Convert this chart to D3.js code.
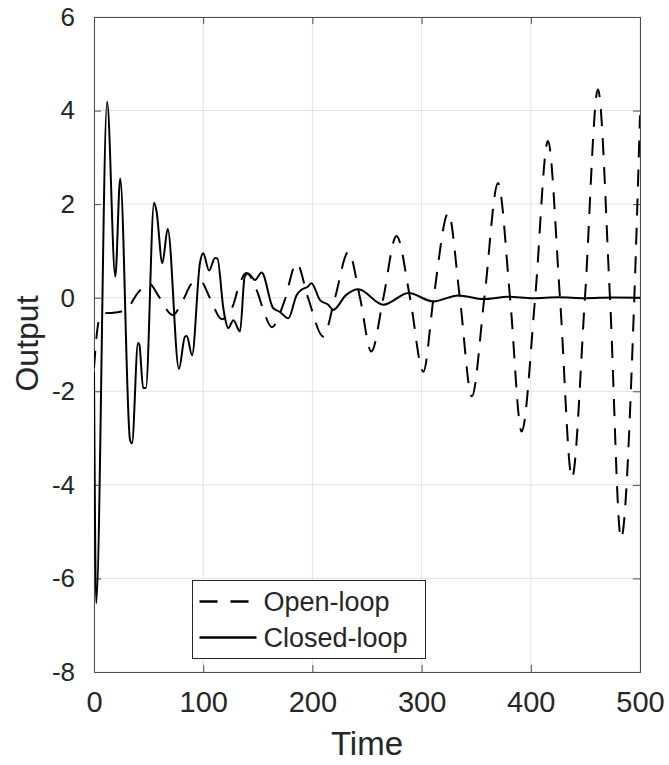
<!DOCTYPE html>
<html>
<head>
<meta charset="utf-8">
<script src="https://cdn.jsdelivr.net/npm/d3@7"></script>
<style>
  body { margin: 0; background: #fff; }
  text { font-family: "Liberation Sans", Arial, Helvetica, sans-serif; fill: #262626; }
</style>
</head>
<body>
<div id="chart"></div>
<script>
const MARGIN = { LEFT: 94, RIGHT: 29, TOP: 17, BOTTOM: 93 };
const WIDTH = 669 - MARGIN.LEFT - MARGIN.RIGHT;
const HEIGHT = 765 - MARGIN.TOP - MARGIN.BOTTOM;

// values: [time, output]
const openLoop = [
  [0, -1.5], [3, -0.69], [5, -0.44], [10, -0.33], [18, -0.32], [24, -0.3],
  [31, -0.22], [40, 0.1], [51, 0.29], [59, 0.04], [72, -0.37], [82, -0.03],
  [90, 0.31], [98, 0.34], [106, 0], [117, -0.46], [127.6, -0.15], [132, 0.2],
  [139.5, 0.53], [150, 0.1], [155, -0.26], [163, -0.63], [174, -0.1],
  [185.6, 0.74], [196, 0], [210, -0.83], [220.7, 0], [233, 0.98], [243.6, 0],
  [254, -1.15], [265, 0], [277, 1.32], [289.4, 0], [301.6, -1.58], [311, 0],
  [324.5, 1.81], [335, 0], [346, -2.11], [357.5, 0], [370, 2.45], [381, 0],
  [391.6, -2.86], [404, 0], [415.7, 3.35], [426.7, 0], [437.7, -3.85],
  [449.6, 0], [461.5, 4.45], [472.5, 0], [482.6, -5.15], [494.8, 0], [500, 3.9]
];

const closedLoop = [
  [0, -1.6], [2, -6.53], [12, 4.19], [19.5, 0.45], [24, 2.55], [33, -3.04],
  [34.8, -3.11], [40.3, -0.97], [41.5, -1.0], [45, -1.93], [47.5, -1.93],
  [55, 2.03], [57.2, 1.86], [62.6, 0.74], [67.5, 1.47], [77.8, -1.52],
  [83.3, -0.83], [85, -0.82], [89.8, -1.23], [97, 0.74], [100, 0.95],
  [105.4, 0.58], [110.8, 0.85], [113, 0.84], [118.3, -0.2], [120, -0.44],
  [123, -0.65], [127.6, -0.48], [133.7, -0.72], [138, 0.45], [141, 0.52],
  [147.4, 0.38], [153.5, 0.54], [164, -0.22], [170, -0.3], [178, -0.44],
  [185.6, 0.06], [190, 0.17], [196, 0.24], [199, 0.31], [207, -0.05],
  [214.5, -0.15], [219, -0.26], [231, 0.06], [242, 0.18], [265, -0.15],
  [288, 0.1], [310.7, -0.08], [333.6, 0.05], [356.5, -0.03], [379.4, 0.02],
  [402, -0.01], [425, 0.01], [450, -0.01], [475, 0.005], [500, 0]
];

const xTicks = [0, 100, 200, 300, 400, 500];
const yTicks = [-8, -6, -4, -2, 0, 2, 4, 6];
const legendLabels = ["Open-loop", "Closed-loop"];

const svg = d3
  .select("#chart")
  .append("svg")
  .attr("width", WIDTH + MARGIN.LEFT + MARGIN.RIGHT)
  .attr("height", HEIGHT + MARGIN.TOP + MARGIN.BOTTOM);

const g = svg
  .append("g")
  .attr("transform", `translate(${MARGIN.LEFT}, ${MARGIN.TOP})`);

const x = d3.scaleLinear().domain([0, 500]).range([0, WIDTH]);
const y = d3.scaleLinear().domain([-8, 6]).range([HEIGHT, 0]);

// grid
g.append("g")
  .selectAll("line.vg")
  .data(xTicks)
  .enter()
  .append("line")
  .attr("x1", (d) => x(d))
  .attr("x2", (d) => x(d))
  .attr("y1", 0)
  .attr("y2", HEIGHT)
  .attr("stroke", "#e3e3e3")
  .attr("stroke-width", 1);

g.append("g")
  .selectAll("line.hg")
  .data(yTicks)
  .enter()
  .append("line")
  .attr("x1", 0)
  .attr("x2", WIDTH)
  .attr("y1", (d) => y(d))
  .attr("y2", (d) => y(d))
  .attr("stroke", "#e3e3e3")
  .attr("stroke-width", 1);

// axes, ticks pointing inward
const fmt = (d) => (d < 0 ? "-" + Math.abs(d) : d);

const xAxisGroup = g
  .append("g")
  .attr("transform", `translate(0, ${HEIGHT})`)
  .call(d3.axisBottom(x).tickValues(xTicks).tickSize(-7).tickPadding(19).tickFormat(fmt));

xAxisGroup.selectAll(".tick text").attr("font-size", "29px");

const yAxisGroup = g
  .append("g")
  .call(d3.axisLeft(y).tickValues(yTicks).tickSize(-7).tickPadding(19).tickFormat(fmt));

yAxisGroup.selectAll(".tick text").attr("font-size", "26px");

g.append("g")
  .call(d3.axisTop(x).tickValues(xTicks).tickSize(-7).tickFormat(""));

g.append("g")
  .attr("transform", `translate(${WIDTH}, 0)`)
  .call(d3.axisRight(y).tickValues(yTicks).tickSize(-7).tickFormat(""));

g.selectAll(".domain, .tick line").attr("stroke", "#4d4d4d");
g.selectAll(".tick text")
  .attr("fill", "#262626")
  .style("font-family", '"Liberation Sans", Arial, sans-serif');

// clip
svg.append("defs")
  .append("clipPath")
  .attr("id", "plot-clip")
  .append("rect")
  .attr("width", WIDTH)
  .attr("height", HEIGHT);

const line = d3
  .line()
  .x((d) => x(d[0]))
  .y((d) => y(d[1]))
  .curve(d3.curveMonotoneX);

const lines = g.append("g").attr("clip-path", "url(#plot-clip)");

lines.append("path")
  .datum(openLoop)
  .attr("d", line)
  .attr("fill", "none")
  .attr("stroke", "#000")
  .attr("stroke-width", 2)
  .attr("stroke-dasharray", "17,12");

lines.append("path")
  .datum(closedLoop)
  .attr("d", line)
  .attr("fill", "none")
  .attr("stroke", "#000")
  .attr("stroke-width", 2)
  .attr("stroke-linejoin", "round");

// X label
g.append("text")
  .attr("x", WIDTH / 2)
  .attr("y", HEIGHT + 83)
  .attr("font-size", "33px")
  .attr("text-anchor", "middle")
  .text("Time");

// Y label
g.append("text")
  .attr("x", -(HEIGHT / 2) + 1)
  .attr("y", -56)
  .attr("font-size", "32px")
  .attr("text-anchor", "middle")
  .attr("transform", "rotate(-90)")
  .text("Output");

// legend
const legend = svg.append("g").attr("transform", "translate(192.5, 580.5)");

legend.append("rect")
  .attr("width", 233)
  .attr("height", 78)
  .attr("fill", "#fff")
  .attr("stroke", "#262626")
  .attr("stroke-width", 1);

legendLabels.forEach((label, i) => {
  const yy = 21 + i * 36;
  legend.append("line")
    .attr("x1", 7)
    .attr("x2", 64)
    .attr("y1", yy)
    .attr("y2", yy)
    .attr("stroke", "#000")
    .attr("stroke-width", 2.5)
    .attr("stroke-dasharray", i === 0 ? "18,13" : null);
  legend.append("text")
    .attr("x", 71)
    .attr("y", yy + 9)
    .attr("font-size", "27px")
    .text(label);
});
</script>
</body>
</html>
